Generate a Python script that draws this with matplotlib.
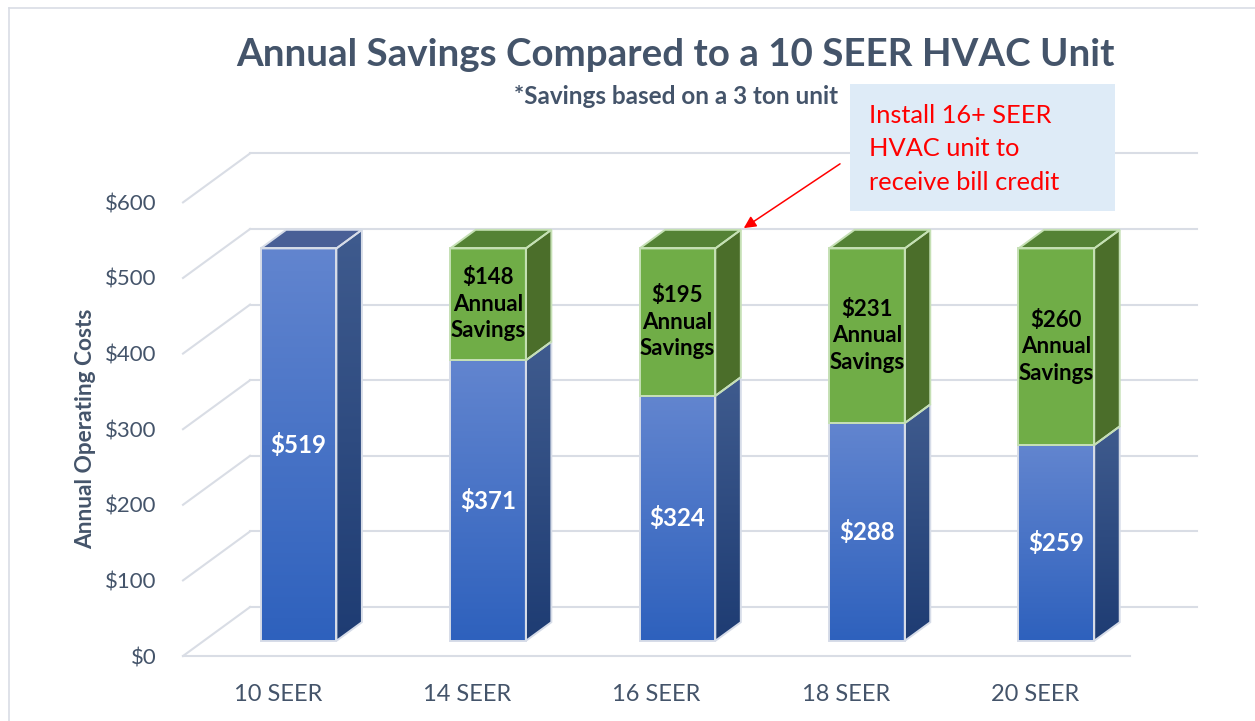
import numpy as np
import matplotlib
matplotlib.use("Agg")
import matplotlib.pyplot as plt
from matplotlib.patches import Polygon, Rectangle
from matplotlib.colors import LinearSegmentedColormap

plt.rcParams["font.family"] = ["Lato", "DejaVu Sans"]

# ---------------------------------------------------------------------
# DATA
# ---------------------------------------------------------------------
categories = ["10 SEER", "14 SEER", "16 SEER", "18 SEER", "20 SEER"]
costs = [519, 371, 324, 288, 259]
savings = [0, 148, 195, 231, 260]
y_ticks = [0, 100, 200, 300, 400, 500, 600]

# ---------------------------------------------------------------------
# STYLE
# ---------------------------------------------------------------------
TXT = "#44546A"
GRID = "#D9DDE5"
BLUE_FRONT = ("#6285CF", "#2E61BD")
BLUE_SIDE = ("#3F5B8E", "#1E3C73")
BLUE_TOP = "#495F96"
GREEN_FRONT = "#70AD47"
GREEN_SIDE = "#4B6E2A"
GREEN_TOP = "#548235"
EDGE_BLUE = "#D6DCE8"
EDGE_GREEN = "#C5E0B4"

# pseudo-3D projection: depth d in [0, 1]
DX = 0.354   # category units per full depth
DY = 64.8    # dollars per full depth
HALF_W = 0.2
D0, D1 = 0.31, 0.69


def proj(x, v, d):
    return (x + d * DX, v + d * DY)


def grad_face(ax, verts, c_top, c_bot, z):
    poly = Polygon(verts, closed=True, facecolor="none", edgecolor="none")
    ax.add_patch(poly)
    xs = [p[0] for p in verts]
    ys = [p[1] for p in verts]
    cmap = LinearSegmentedColormap.from_list("g", [c_bot, c_top])
    grad = np.linspace(0, 1, 256).reshape(-1, 1)
    im = ax.imshow(grad, cmap=cmap, origin="lower", aspect="auto",
                   extent=(min(xs), max(xs), min(ys), max(ys)),
                   interpolation="bilinear", zorder=z)
    im.set_clip_path(poly)


def flat_face(ax, verts, color, z):
    ax.add_patch(Polygon(verts, closed=True, facecolor=color,
                         edgecolor="none", zorder=z))


def edge(ax, verts, color, z):
    ax.add_patch(Polygon(verts, closed=True, facecolor="none",
                         edgecolor=color, lw=1.4, joinstyle="miter", zorder=z))


fig = plt.figure(figsize=(12.55, 7.21), dpi=100)
ax = fig.add_axes([0.14582, 0.06918, 0.83028, 0.77593])

# ---------------- GRID (walls) ----------------
for v in y_ticks:
    xa, ya = proj(-0.5, v, 1)
    xb, yb = proj(4.5, v, 1)
    ax.plot([xa, xb], [ya, yb], color=GRID, lw=1.5, zorder=1, clip_on=False)
    xc, yc = proj(-0.5, v, 0)
    ax.plot([xc, xa], [yc, ya], color=GRID, lw=1.5, zorder=1, clip_on=False)
xa, ya = proj(-0.5, 0, 0)
xb, yb = proj(4.5, 0, 0)
ax.plot([xa, xb], [ya, yb], color=GRID, lw=1.5, zorder=1, clip_on=False)

# ---------------- BARS ----------------
for i, (c, s) in enumerate(zip(costs, savings)):
    x0, x1 = i - HALF_W, i + HALF_W
    segs = [(0, c, "blue")]
    if s > 0:
        segs.append((c, c + s, "green"))
    z = 3 + i
    for (v0, v1, kind) in segs:
        front = [proj(x0, v0, D0), proj(x1, v0, D0), proj(x1, v1, D0), proj(x0, v1, D0)]
        side = [proj(x1, v0, D0), proj(x1, v0, D1), proj(x1, v1, D1), proj(x1, v1, D0)]
        if kind == "blue":
            grad_face(ax, front, BLUE_FRONT[0], BLUE_FRONT[1], z)
            grad_face(ax, side, BLUE_SIDE[0], BLUE_SIDE[1], z)
            ec = EDGE_BLUE
        else:
            flat_face(ax, front, GREEN_FRONT, z)
            flat_face(ax, side, GREEN_SIDE, z)
            ec = EDGE_GREEN
        edge(ax, front, ec, z + 0.2)
        edge(ax, side, ec, z + 0.2)

        cx, cy = proj(i, (v0 + v1) / 2, D0)
        if kind == "blue":
            ax.text(cx, cy, f"${v1 - v0}", ha="center", va="center",
                    color="white", fontsize=17.3, fontweight="bold", zorder=z + 0.5)
        else:
            ax.text(cx, cy, f"${v1 - v0}\nAnnual\nSavings", ha="center", va="center",
                    color="black", fontsize=16, fontweight="bold",
                    linespacing=1.32, zorder=z + 0.5)

    vt = c + s
    top = [proj(x0, vt, D0), proj(x1, vt, D0), proj(x1, vt, D1), proj(x0, vt, D1)]
    tc, tec = (GREEN_TOP, EDGE_GREEN) if s > 0 else (BLUE_TOP, EDGE_BLUE)
    flat_face(ax, top, tc, z)
    edge(ax, top, tec, z + 0.2)

# ---------------- AXES ----------------
ax.set_xlim(-0.5, 5.0)
ax.set_ylim(-20, 720)
ax.set_xticks(range(len(categories)))
ax.set_xticklabels(categories)
ax.set_yticks(y_ticks)
ax.set_yticklabels([f"${v}" for v in y_ticks])
ax.tick_params(axis="y", length=0, pad=19, labelsize=16, labelcolor=TXT)
ax.tick_params(axis="x", length=0, pad=9, labelsize=17, labelcolor=TXT)
for sp in ax.spines.values():
    sp.set_visible(False)
ax.set_ylabel("Annual Operating Costs", fontsize=16.3, fontweight="bold", color=TXT)
ax.yaxis.set_label_coords(-0.0835, 0.4328)

# ---------------- TITLES ----------------
fig.text(0.538, 1 - 55 / 721, "Annual Savings Compared to a 10 SEER HVAC Unit",
         ha="center", va="center", fontsize=27.7, fontweight="bold", color=TXT)
fig.text(0.5386, 1 - 97 / 721, "*Savings based on a 3 ton unit",
         ha="center", va="center", fontsize=17.5, fontweight="bold", color=TXT)

# ---------------- CALLOUT ----------------
fig.patches.append(Rectangle((0.6773, 0.7074), 0.2112, 0.1761,
                             transform=fig.transFigure, facecolor="#DEEBF7",
                             edgecolor="none", zorder=0))
fig.text(869 / 1255, 1 - 149 / 721, "Install 16+ SEER\nHVAC unit to\nreceive bill credit",
         ha="left", va="center", fontsize=18.3, color="#FF0000", linespacing=1.55)
ax.annotate("", xy=(2.46, 566), xytext=(2.968, 651),
            arrowprops=dict(arrowstyle="-|>", color="#FF0000", lw=1.1,
                            mutation_scale=18, shrinkA=0, shrinkB=0),
            annotation_clip=False, zorder=20)

# ---------------- BORDER ----------------
fig.add_artist(plt.Line2D([8.5 / 1255, 8.5 / 1255], [0, 1 - 8 / 721],
                          transform=fig.transFigure, color="#D9DDE5", lw=1.2))
fig.add_artist(plt.Line2D([8.5 / 1255, 1], [1 - 8 / 721, 1 - 8 / 721],
                          transform=fig.transFigure, color="#D9DDE5", lw=1.2))

fig.savefig("out.png", dpi=100, facecolor="white")
